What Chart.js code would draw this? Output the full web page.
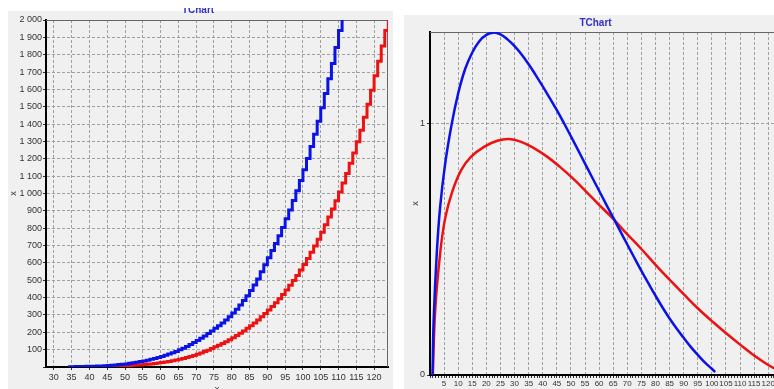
<!DOCTYPE html>
<html>
<head>
<meta charset="utf-8">
<script src="https://cdn.jsdelivr.net/npm/chart.js@4.4.1/dist/chart.umd.min.js"></script>
<style>
  html, body { margin:0; padding:0; background:#fff; width:774px; height:389px; overflow:hidden; }
  #leftBox { position:absolute; left:8px; top:8px; width:385px; height:400px; overflow:hidden;
    background: linear-gradient(#fff 0, #fff 3px, #f0f0f0 3px); }
  #leftBox canvas { position:absolute; left:0; top:-4px; }
  #rightBox { position:absolute; left:404px; top:15px; width:386px; height:400px; overflow:hidden; background:#f0f0f0; }
  #rightBox canvas { position:absolute; left:0; top:0; }
</style>
</head>
<body>
<div id="leftBox"><canvas id="leftChart" width="385" height="393"></canvas></div>
<div id="rightBox"><canvas id="rightChart" width="386" height="384"></canvas></div>
<script>
// left chart: stepped series, one step per unit of x
const leftBlueX = [34,35,36,37,38,39,40,41,42,43,44,45,46,47,48,49,50,51,52,53,54,55,56,57,58,59,60,61,62,63,64,65,66,67,68,69,70,71,72,73,74,75,76,77,78,79,80,81,82,83,84,85,86,87,88,89,90,91,92,93,94,95,96,97,98,99,100,101,102,103,104,105,106,107,108,109,110,111,112];
const leftBlueY = [2,2,3,3,3,4,4,5,6,6,7,8,10,12,14,16,18,21,24,27,31,35,39,44,49,55,61,68,75,82,90,99,108,118,129,141,153,166,179,193,208,223,238,254,271,290,311,333,357,383,411,441,473,507,549,590,630,671,712,757,804,854,905,959,1016,1075,1137,1202,1271,1342,1416,1494,1576,1661,1750,1842,1939,2038,2145];
const leftRedX = [44,45,46,47,48,49,50,51,52,53,54,55,56,57,58,59,60,61,62,63,64,65,66,67,68,69,70,71,72,73,74,75,76,77,78,79,80,81,82,83,84,85,86,87,88,89,90,91,92,93,94,95,96,97,98,99,100,101,102,103,104,105,106,107,108,109,110,111,112,113,114,115,116,117,118,119,120,121,122,123,124];
const leftRedY = [3,4,4,5,6,7,8,9,10,11,12,14,16,18,20,23,26,29,32,36,40,44,49,55,61,67,74,81,89,97,106,116,125,135,146,157,168,181,194,208,223,238,254,271,289,308,328,349,370,394,418,444,471,499,528,559,591,625,661,698,736,777,820,864,910,958,1008,1060,1115,1175,1233,1298,1365,1440,1515,1595,1678,1762,1850,1940,2030];
const leftXTicks = [30,35,40,45,50,55,60,65,70,75,80,85,90,95,100,105,110,115,120];

// right chart: smooth curves
const rightBlueX = [0.9,1.3,2.4,3.6,5.4,7.7,10,12.5,15,17.5,20,22.5,25,27.5,30,32.5,35,37.5,40,42.5,45,47.5,50,52.5,55,57.5,60,62.5,65,67.5,70,72.5,75,77.5,80,82.5,85,87.5,90,92.5,95,97.5,100,101.2];
const rightBlueY = [0,0.22,0.485,0.67,0.843,1.0,1.122,1.22,1.285,1.33,1.355,1.364,1.357,1.337,1.31,1.277,1.238,1.195,1.15,1.103,1.055,1.004,0.951,0.897,0.842,0.788,0.734,0.68,0.627,0.573,0.52,0.467,0.415,0.365,0.316,0.269,0.225,0.185,0.148,0.112,0.08,0.05,0.025,0.012];
const rightRedX = [1.0,1.85,3.6,5.3,7.7,11.1,14.6,19.3,23.9,28,32.1,36.7,41.4,46,50.6,55.3,59.9,64.6,69.2,75,79.7,85.5,90.1,94.8,100.6,105.2,109.9,114.5,120.3,125];
const rightRedY = [0,0.26,0.485,0.62,0.724,0.817,0.87,0.91,0.933,0.94,0.93,0.905,0.871,0.83,0.784,0.732,0.679,0.627,0.57,0.502,0.443,0.374,0.321,0.268,0.209,0.165,0.122,0.082,0.038,0.01];

const BLUE = '#0a12e8';
const RED = '#ee1111';
const GRID = '#a0a0a0';

Chart.defaults.font.family = '"Liberation Sans", Arial, sans-serif';
Chart.defaults.font.size = 9;
Chart.defaults.color = '#333';

const pts = (xs, ys) => xs.map((x, i) => ({x: x, y: ys[i]}));

// thin frame on the top and right of the plot area
const frame = {
  id: 'frame',
  beforeDatasetsDraw(chart) {
    const a = chart.chartArea, ctx = chart.ctx;
    ctx.save();
    ctx.strokeStyle = '#666';
    ctx.lineWidth = 1;
    ctx.beginPath();
    ctx.moveTo(Math.round(a.left), Math.round(a.top) + 0.5);
    ctx.lineTo(Math.round(a.right) - 0.5, Math.round(a.top) + 0.5);
    ctx.lineTo(Math.round(a.right) - 0.5, Math.round(a.bottom));
    ctx.stroke();
    ctx.restore();
  }
};

const fmtThousands = v => {
  if (v === 0) return '';
  if (v >= 1000) return Math.floor(v / 1000) + ' ' + String(v % 1000).padStart(3, '0');
  return String(v);
};

new Chart(document.getElementById('leftChart'), {
  type: 'line',
  data: {
    datasets: [
      { data: pts(leftBlueX, leftBlueY), borderColor: BLUE, borderWidth: 3, stepped: true, pointRadius: 0 },
      { data: pts(leftRedX, leftRedY), borderColor: RED, borderWidth: 3, stepped: true, pointRadius: 0 }
    ]
  },
  options: {
    responsive: false,
    animation: false,
    layout: { padding: { left: 0, right: 5, top: 0, bottom: 0 } },
    plugins: {
      legend: { display: false },
      tooltip: { enabled: false },
      title: { display: true, text: 'TChart', color: '#3030c8', font: { size: 10 }, padding: { top: 0, bottom: 4 } }
    },
    scales: {
      x: {
        type: 'linear', min: 27.8, max: 123.9,
        afterFit: s => { s.height = 30; },
        afterBuildTicks: s => { s.ticks = leftXTicks.map(v => ({value: v})); },
        ticks: { stepSize: 5, includeBounds: false, autoSkip: false, maxRotation: 0, padding: 2 },
        grid: { color: GRID, tickColor: '#333', tickLength: 3 },
        border: { color: '#000', width: 2, dash: [3, 2] },
        title: { display: true, text: 'x', padding: { top: 0, bottom: 2 } }
      },
      y: {
        min: 0, max: 2000,
        afterFit: s => { s.width = 38; },
        ticks: { stepSize: 100, includeBounds: false, autoSkip: false, padding: 1, callback: fmtThousands },
        grid: { color: GRID, tickColor: '#333', tickLength: 3 },
        border: { color: '#000', width: 2, dash: [3, 2] },
        title: { display: true, text: 'x', padding: { top: 0, bottom: 0 } }
      }
    }
  },
  plugins: [frame]
});

new Chart(document.getElementById('rightChart'), {
  type: 'line',
  data: {
    datasets: [
      { data: pts(rightBlueX, rightBlueY), borderColor: BLUE, borderWidth: 2.5, tension: 0.4, pointRadius: 0 },
      { data: pts(rightRedX, rightRedY), borderColor: RED, borderWidth: 2.5, tension: 0.4, pointRadius: 0 }
    ]
  },
  options: {
    responsive: false,
    animation: false,
    layout: { padding: { left: 0, right: 3, top: 0, bottom: 0 } },
    plugins: {
      legend: { display: false },
      tooltip: { enabled: false },
      title: { display: true, text: 'TChart', color: '#3030c8', font: { size: 10 }, padding: { top: 2, bottom: 3 } }
    },
    scales: {
      x: {
        type: 'linear', min: 0, max: 125,
        afterFit: s => { s.height = 24; },
        ticks: {
          stepSize: 1, includeBounds: false, autoSkip: false, maxRotation: 0, minRotation: 0, padding: 1,
          font: { size: 8 },
          callback: v => (v % 5 === 0 && v > 0) ? String(v) : ''
        },
        grid: {
          color: c => (c.tick && c.tick.value % 5 === 0) ? GRID : 'rgba(0,0,0,0)',
          tickColor: '#333', tickLength: 3
        },
        border: { color: '#000', width: 2, dash: [3, 2] },
        title: { display: true, text: 'x', padding: { top: 0, bottom: 2 } }
      },
      y: {
        min: 0, max: 1.3665,
        afterFit: s => { s.width = 26; },
        ticks: { stepSize: 1, includeBounds: false, padding: 2 },
        grid: { color: GRID, tickColor: '#333', tickLength: 3 },
        border: { color: '#000', width: 2, dash: [3, 2] },
        title: { display: true, text: 'x', padding: { top: 6, bottom: 0 } }
      }
    }
  },
  plugins: [frame]
});
</script>
</body>
</html>
